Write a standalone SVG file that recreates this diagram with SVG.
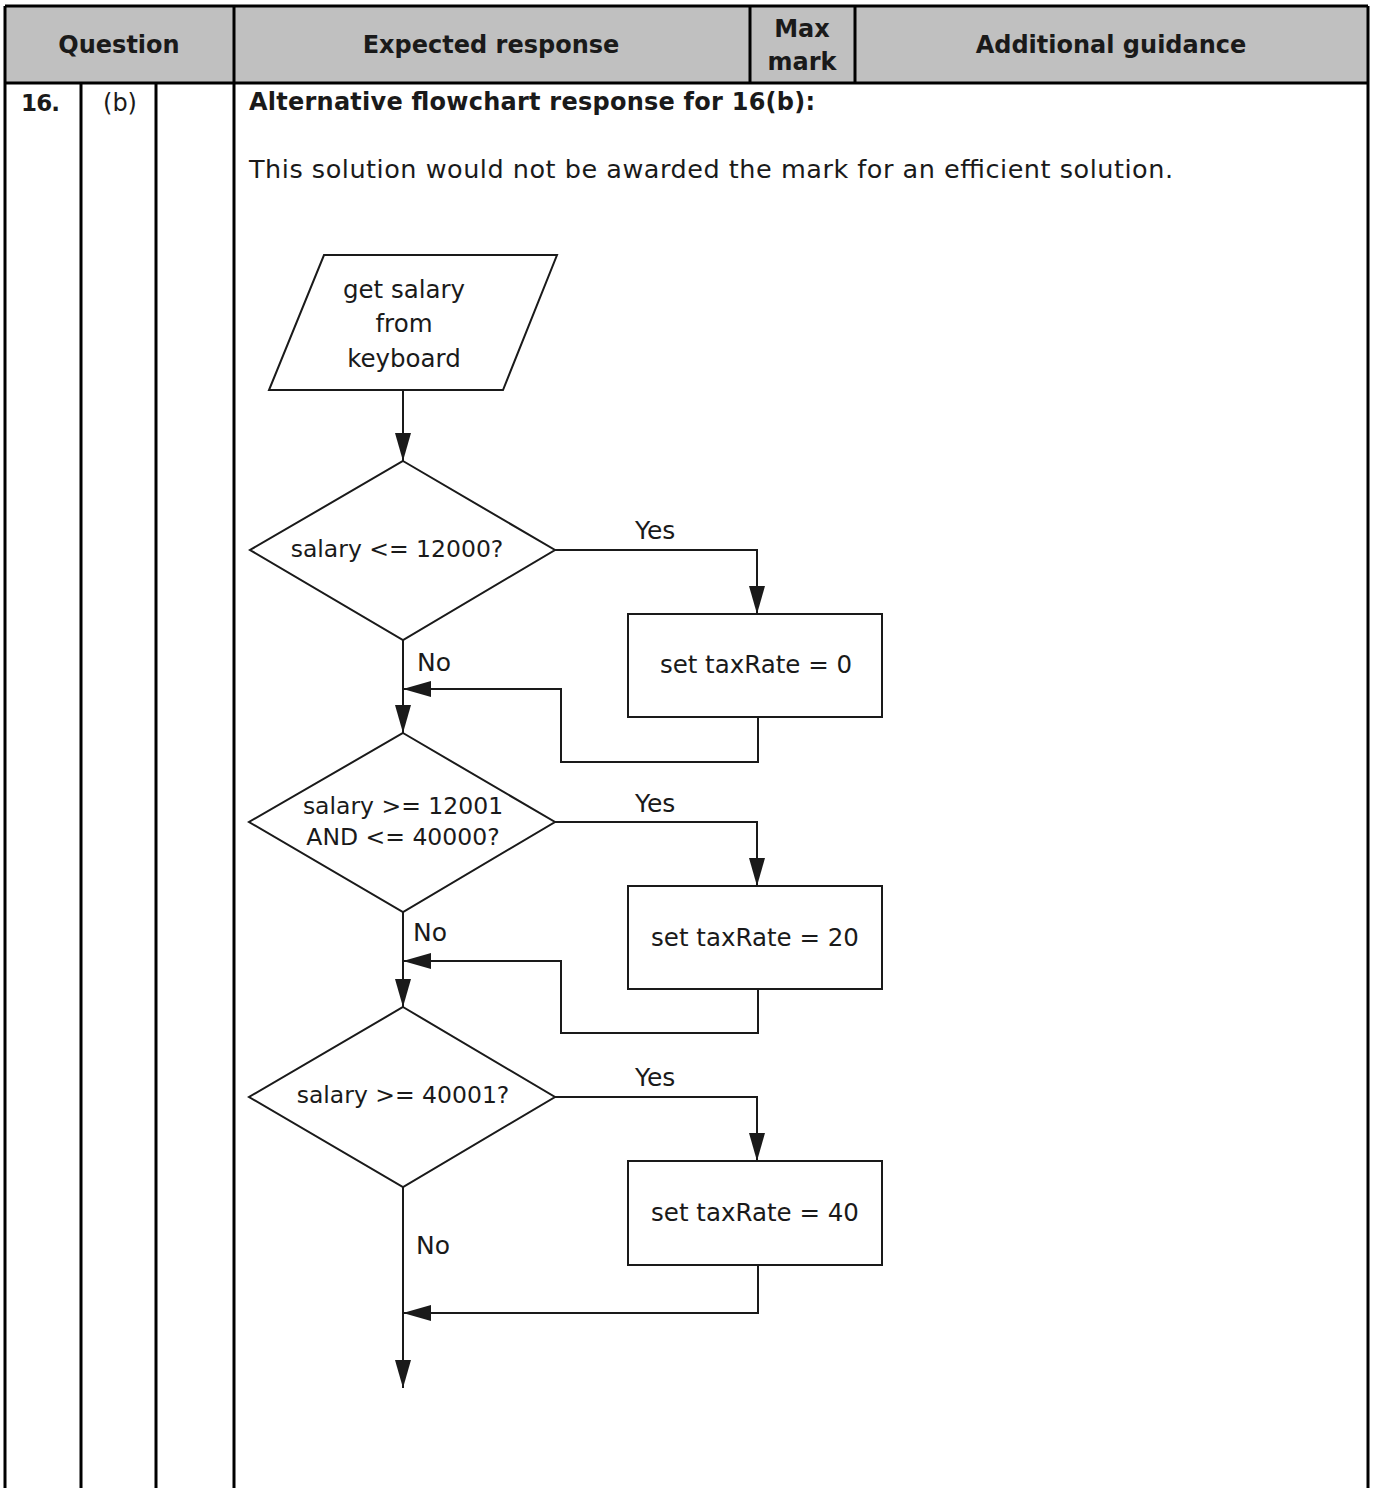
<svg xmlns="http://www.w3.org/2000/svg" width="1376" height="1488" viewBox="0 0 1376 1488">
<defs>
<style>
.t{font-family:"DejaVu Sans","Liberation Sans",sans-serif;fill:#1a1a1a}
.hd{font-size:24px;font-weight:bold;text-anchor:middle}
.b{font-size:23px;font-weight:bold}
.b2{font-size:24px;font-weight:bold}
.n{font-size:24px}
.n2{font-size:25.5px}
.f{font-size:24.5px;text-anchor:middle}
.fd{font-size:23.5px;text-anchor:middle}
.lbl{font-size:25px}
.grid{stroke:#000;stroke-width:3;fill:none}
.shape{fill:#fff;stroke:#1a1a1a;stroke-width:2}
.conn{fill:none;stroke:#1a1a1a;stroke-width:2}
</style>
<marker id="ah" markerUnits="userSpaceOnUse" markerWidth="30" markerHeight="18" refX="28" refY="8" orient="auto" viewBox="0 0 30 18">
<path d="M0,0 L28,8 L0,16 z" fill="#1a1a1a"/>
</marker>
</defs>
<rect width="1376" height="1488" fill="#fff"/>
<g id="table">
<rect x="5" y="6" width="1363" height="77" fill="#c0c0c0"/>
<path class="grid" d="M5,6 H1368 M5,83 H1368 M5,6 V1488 M1368,6 V1488 M234,6 V1488 M81,83 V1488 M156,83 V1488 M750,6 V83 M855,6 V83"/>
<text class="t hd" x="119" y="53">Question</text>
<text class="t hd" x="491" y="53">Expected response</text>
<text class="t hd" x="802" y="37">Max</text>
<text class="t hd" x="802" y="70">mark</text>
<text class="t hd" x="1111" y="53">Additional guidance</text>
<text class="t b" x="21" y="111" textLength="39">16.</text>
<text class="t n" x="120" y="111" text-anchor="middle">(b)</text>
<text class="t b2" x="249" y="110" textLength="566">Alternative flowchart response for 16(b):</text>
<text class="t n2" x="249" y="178" textLength="924">This solution would not be awarded the mark for an efficient solution.</text>
</g>
<g id="input">
<polygon class="shape" points="324,255 557,255 503,390 269,390"/>
<text class="t f" x="404" y="298">get salary</text>
<text class="t f" x="404" y="332">from</text>
<text class="t f" x="404" y="367">keyboard</text>
</g>
<g id="d1">
<polygon class="shape" points="403,461 555,550 403,640 250,550"/>
<text class="t fd" x="397" y="557">salary &lt;= 12000?</text>
</g>
<g id="r1">
<rect class="shape" x="628" y="614" width="254" height="103"/>
<text class="t f" x="756" y="673">set taxRate = 0</text>
</g>
<g id="d2">
<polygon class="shape" points="403,733 555,822 403,912 249,822"/>
<text class="t fd" x="403" y="814">salary &gt;= 12001</text>
<text class="t fd" x="403" y="845">AND &lt;= 40000?</text>
</g>
<g id="r2">
<rect class="shape" x="628" y="886" width="254" height="103"/>
<text class="t f" x="755" y="946">set taxRate = 20</text>
</g>
<g id="d3">
<polygon class="shape" points="403,1007 555,1097 403,1187 249,1097"/>
<text class="t fd" x="403" y="1103">salary &gt;= 40001?</text>
</g>
<g id="r3">
<rect class="shape" x="628" y="1161" width="254" height="104"/>
<text class="t f" x="755" y="1221">set taxRate = 40</text>
</g>
<g id="connectors">
<path class="conn" marker-end="url(#ah)" d="M403,390 V461"/>
<path class="conn" marker-end="url(#ah)" d="M555,550 H757 V614"/>
<path class="conn" marker-end="url(#ah)" d="M758,717 V762 H561 V689 H403"/>
<path class="conn" marker-end="url(#ah)" d="M403,640 V733"/>
<path class="conn" marker-end="url(#ah)" d="M555,822 H757 V886"/>
<path class="conn" marker-end="url(#ah)" d="M758,989 V1033 H561 V961 H403"/>
<path class="conn" marker-end="url(#ah)" d="M403,912 V1007"/>
<path class="conn" marker-end="url(#ah)" d="M555,1097 H757 V1161"/>
<path class="conn" marker-end="url(#ah)" d="M758,1265 V1313 H403"/>
<path class="conn" marker-end="url(#ah)" d="M403,1187 V1388"/>
<text class="t lbl" x="635" y="539">Yes</text>
<text class="t lbl" x="417" y="671">No</text>
<text class="t lbl" x="635" y="812">Yes</text>
<text class="t lbl" x="413" y="941">No</text>
<text class="t lbl" x="635" y="1086">Yes</text>
<text class="t lbl" x="416" y="1254">No</text>
</g>
</svg>
